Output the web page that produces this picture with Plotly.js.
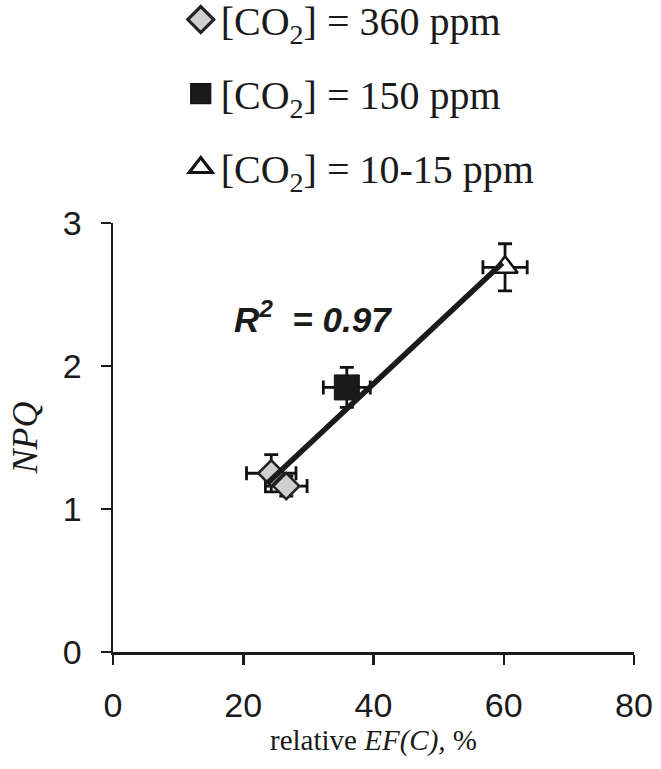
<!DOCTYPE html>
<html>
<head>
<meta charset="utf-8">
<script src="https://cdn.plot.ly/plotly-3.0.1.min.js"></script>
<style>html,body{margin:0;padding:0;background:#fff;}</style>
</head>
<body>
<div id="chart" style="width:661px;height:769px;"></div>
<script>
// values
const ef360 = [24.3, 26.6];
const npq360 = [1.25, 1.16];
const ef360Err = [3.8, 3.2];
const npq360Err = [0.13, 0.07];

const ef150 = [35.9];
const npq150 = [1.85];
const ef150Err = [3.6];
const npq150Err = [0.14];

const ef10 = [60.2];
const npq10 = [2.69];
const ef10Err = [3.4];
const npq10Err = [0.165];

const fitX = [23.7, 59.8];
const fitY = [1.18, 2.72];
const r2Label = 'R<sup>2</sup>  = 0.97';

const xTicks = [0, 20, 40, 60, 80];
const yTicks = [0, 1, 2, 3];

function errs(arr) { return {type:'data', array:arr, visible:true, color:'#111', thickness:2.8, width:7}; }

const traces = [
  {x:ef360, y:npq360, type:'scatter', mode:'markers', name:'[CO<sub>2</sub>] = 360 ppm', legendgroup:'a',
   error_x:errs(ef360Err), error_y:errs(npq360Err),
   marker:{symbol:'diamond', size:20, color:'#cfcfcf', line:{color:'#222', width:2.5}}},
  {x:ef150, y:npq150, type:'scatter', mode:'markers', name:'[CO<sub>2</sub>] = 150 ppm', legendgroup:'b',
   error_x:errs(ef150Err), error_y:errs(npq150Err),
   marker:{symbol:'square', size:25, color:'#1a1a1a', line:{color:'#111', width:1}}},
  {x:ef10, y:npq10, type:'scatter', mode:'markers', name:'[CO<sub>2</sub>] = 10-15 ppm', legendgroup:'c',
   error_x:errs(ef10Err), error_y:errs(npq10Err),
   marker:{symbol:'triangle-up', size:22, color:'#fff', line:{color:'#111', width:2.5}}},
  {x:fitX, y:fitY, type:'scatter', mode:'lines', showlegend:false, line:{color:'#1a1a1a', width:5.5}}
];

const axisFont = {family:'Liberation Sans, Arial, sans-serif', size:34, color:'#1a1a1a'};
const serif = 'Liberation Serif, Times New Roman, serif';

const layout = {
  width:661, height:769,
  margin:{l:113, r:27, t:223, b:117, autoexpand:false},
  paper_bgcolor:'#fff', plot_bgcolor:'#fff',
  showlegend:true,
  legend:{x:0.13, xanchor:'left', y:1.55, yanchor:'top', font:{family:serif, size:40, color:'#1a1a1a'},
          tracegroupgap:19, bgcolor:'rgba(0,0,0,0)'},
  xaxis:{range:[0, 80], tickvals:xTicks, showgrid:false, zeroline:false, showline:true, linecolor:'#1a1a1a', linewidth:2.5,
         ticks:'outside', ticklen:10, tickwidth:2.5, tickcolor:'#1a1a1a', tickfont:axisFont, ticklabelstandoff:12,
         title:{text:'relative <i>EF(C),</i> %', font:{family:serif, size:29, color:'#1a1a1a'}, standoff:0}},
  yaxis:{range:[0, 3], tickvals:yTicks, showgrid:false, zeroline:false, showline:true, linecolor:'#1a1a1a', linewidth:2.5,
         ticks:'outside', ticklen:10, tickwidth:2.5, tickcolor:'#1a1a1a', tickfont:axisFont, ticklabelstandoff:12,
         title:{text:'<i>NPQ</i>', font:{family:serif, size:36, color:'#1a1a1a'}, standoff:14}},
  annotations:[{x:30.7, y:2.34, xref:'x', yref:'y', showarrow:false, text:'<b><i>'+r2Label+'</i></b>',
                font:{family:'Liberation Sans, Arial, sans-serif', size:35, color:'#1a1a1a'}}]
};

Plotly.newPlot('chart', traces, layout, {staticPlot:true}).then(function (gd) {
  // legend symbols are capped at 16px by plotly, the figure has them bigger
  gd.querySelectorAll('.legendpoints path.scatterpts').forEach(function (p) {
    p.setAttribute('transform', (p.getAttribute('transform') || '') + ' scale(1.25)');
  });
});
</script>
</body>
</html>
